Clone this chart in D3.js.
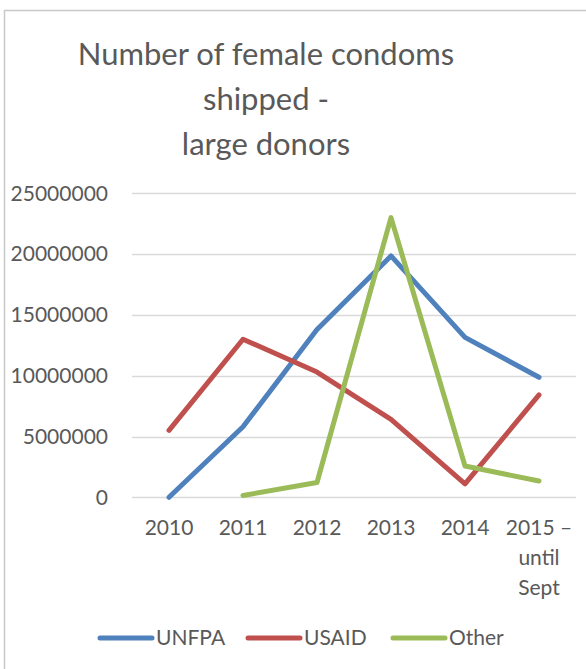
<!DOCTYPE html>
<html>
<head>
<meta charset="utf-8">
<script src="https://cdn.jsdelivr.net/npm/d3@7"></script>
<style>
  body { margin: 0; background: #fff; }
  svg { display: block; }
  text { font-family: Lato, "Open Sans", sans-serif; fill: #595959; }
</style>
</head>
<body>
<svg id="chart" width="586" height="669"></svg>
<script>
const titleLines = ["Number of female condoms", "shipped -", "large donors"];
const categories = ["2010", "2011", "2012", "2013", "2014", "2015 – until Sept"];
const categoryLines = [["2010"], ["2011"], ["2012"], ["2013"], ["2014"], ["2015 –", "until", "Sept"]];
const seriesNames = ["UNFPA", "USAID", "Other"];
const seriesColors = ["#4F81BD", "#C0504D", "#9BBB59"];
const unfpa = [0, 5800000, 13800000, 19850000, 13150000, 9870000];
const usaid = [5500000, 13000000, 10300000, 6400000, 1100000, 8420000];
const other = [null, 150000, 1220000, 23000000, 2570000, 1340000];
const yTicks = [0, 5000000, 10000000, 15000000, 20000000, 25000000];

const series = [unfpa, usaid, other];
const svg = d3.select("#chart");

// chart border
svg.append("rect")
  .attr("x", 4.5).attr("y", 10.5)
  .attr("width", 600).attr("height", 700)
  .attr("fill", "none").attr("stroke", "#c8c8c8").attr("stroke-width", 1.5);

// title
svg.append("g").selectAll("text").data(titleLines).join("text")
  .attr("x", 266).attr("y", (d, i) => 65 + i * 45)
  .attr("text-anchor", "middle")
  .style("font-size", "31px")
  .text(d => d);

const x = d3.scaleBand().domain(categories).range([132, 576]);
const y = d3.scaleLinear().domain([0, 25000000]).range([497.3, 193.3]);

// gridlines
svg.append("g").selectAll("line").data(yTicks).join("line")
  .attr("x1", 132).attr("x2", 576)
  .attr("y1", d => Math.round(y(d)) + 0.5).attr("y2", d => Math.round(y(d)) + 0.5)
  .attr("stroke", "#d9d9d9").attr("stroke-width", 1.3);

// y axis labels
const yAxis = d3.axisLeft(y).tickValues(yTicks).tickSize(0).tickPadding(0).tickFormat(d3.format("d"));
const yg = svg.append("g").attr("transform", "translate(108,0)").call(yAxis);
yg.select(".domain").remove();
yg.selectAll("text").style("font-size", "21px").attr("fill", "#595959")
  .style("font-family", "Lato, 'Open Sans', sans-serif");

// x axis labels
const xg = svg.append("g");
categories.forEach((c, i) => {
  const t = xg.append("text")
    .attr("x", x(c) + x.bandwidth() / 2)
    .attr("y", 535)
    .attr("text-anchor", "middle")
    .style("font-size", "21px");
  categoryLines[i].forEach((ln, j) => {
    t.append("tspan").attr("x", x(c) + x.bandwidth() / 2).attr("dy", j === 0 ? 0 : 30).text(ln);
  });
});

// lines
const line = d3.line()
  .defined(d => d.v !== null)
  .x(d => x(d.c) + x.bandwidth() / 2)
  .y(d => y(d.v));

series.forEach((s, i) => {
  svg.append("path")
    .datum(s.map((v, k) => ({ c: categories[k], v })))
    .attr("d", line)
    .attr("fill", "none")
    .attr("stroke", seriesColors[i])
    .attr("stroke-width", 5)
    .attr("stroke-linecap", "round")
    .attr("stroke-linejoin", "round");
});

// legend
const legendX = [100, 248, 393];
const lg = svg.append("g");
seriesNames.forEach((n, i) => {
  lg.append("line")
    .attr("x1", legendX[i]).attr("x2", legendX[i] + 52)
    .attr("y1", 638).attr("y2", 638)
    .attr("stroke", seriesColors[i]).attr("stroke-width", 5)
    .attr("stroke-linecap", "round");
  lg.append("text")
    .attr("x", legendX[i] + 56).attr("y", 645)
    .style("font-size", "21px")
    .text(n);
});
</script>
</body>
</html>
